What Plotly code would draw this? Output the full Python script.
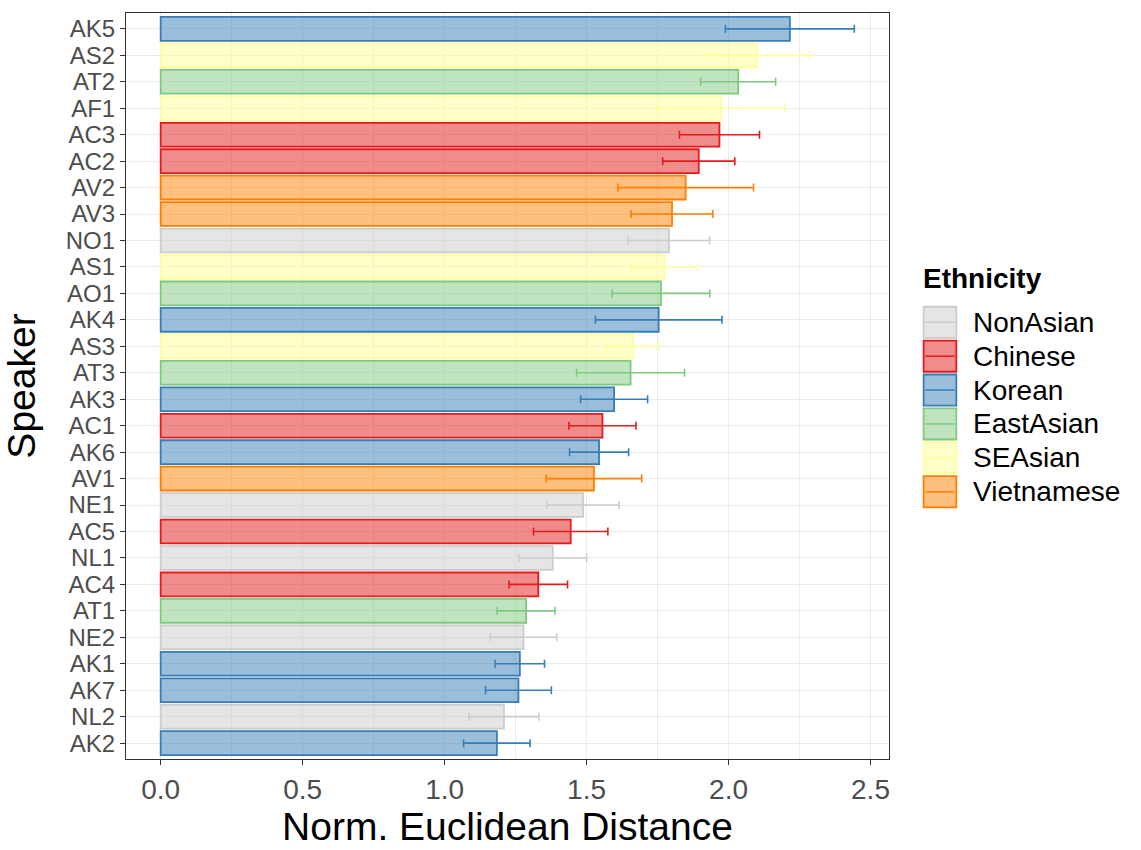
import plotly.graph_objects as go

# Speakers listed top to bottom, with mean distance, error half-width and ethnicity
speakers = ["AK5", "AS2", "AT2", "AF1", "AC3", "AC2", "AV2", "AV3", "NO1", "AS1",
            "AO1", "AK4", "AS3", "AT3", "AK3", "AC1", "AK6", "AV1", "NE1", "AC5",
            "NL1", "AC4", "AT1", "NE2", "AK1", "AK7", "NL2", "AK2"]
distance = [2.216, 2.100, 2.034, 1.973, 1.968, 1.895, 1.849, 1.801, 1.790, 1.774,
            1.762, 1.754, 1.664, 1.655, 1.597, 1.556, 1.544, 1.526, 1.488, 1.444,
            1.381, 1.330, 1.287, 1.278, 1.265, 1.260, 1.209, 1.184]
error = [0.227, 0.186, 0.132, 0.225, 0.141, 0.127, 0.239, 0.144, 0.143, 0.117,
         0.172, 0.223, 0.092, 0.190, 0.118, 0.118, 0.104, 0.168, 0.127, 0.131,
         0.119, 0.103, 0.102, 0.117, 0.087, 0.116, 0.123, 0.117]
ethnicity = ["Korean", "SEAsian", "EastAsian", "SEAsian", "Chinese", "Chinese",
             "Vietnamese", "Vietnamese", "NonAsian", "SEAsian", "EastAsian", "Korean",
             "SEAsian", "EastAsian", "Korean", "Chinese", "Korean", "Vietnamese",
             "NonAsian", "Chinese", "NonAsian", "Chinese", "EastAsian", "NonAsian",
             "Korean", "Korean", "NonAsian", "Korean"]

groups = ["NonAsian", "Chinese", "Korean", "EastAsian", "SEAsian", "Vietnamese"]
line_colors = {"NonAsian": "#CCCCCC", "Chinese": "#E41A1C", "Korean": "#377EB8",
               "EastAsian": "#7FC97F", "SEAsian": "#FFFF99", "Vietnamese": "#FF7F00"}
x_ticks = [0, 0.5, 1.0, 1.5, 2.0, 2.5]


def rgba(hex_color, alpha):
    h = hex_color.lstrip("#")
    r, g, b = int(h[0:2], 16), int(h[2:4], 16), int(h[4:6], 16)
    return f"rgba({r},{g},{b},{alpha})"


FONT = "Liberation Sans, Arial, sans-serif"
W, H = 1141, 850
L, R, T, B = 126, 888.7, 12.3, 772.7   # plot area in pixels

fig = go.Figure()
for g in groups:
    idx = [i for i, e in enumerate(ethnicity) if e == g]
    fig.add_trace(go.Bar(
        y=[speakers[i] for i in idx],
        x=[distance[i] for i in idx],
        orientation="h",
        width=0.9,
        name=g,
        showlegend=False,
        marker=dict(color=rgba(line_colors[g], 0.5),
                    line=dict(color=line_colors[g], width=1.8)),
        error_x=dict(type="data", array=[error[i] for i in idx], visible=True,
                     color=line_colors[g], thickness=1.6, width=4),
    ))

hi = max(d + e for d, e in zip(distance, error))
x_range = [-0.05 * hi, 1.05 * hi]

fig.update_layout(
    width=W, height=H,
    margin=dict(l=L, r=W - R, t=T, b=H - B),
    paper_bgcolor="white", plot_bgcolor="white",
    barmode="overlay",
    font=dict(family=FONT, color="#4D4D4D"),
    xaxis=dict(
        range=x_range, tickmode="array", tickvals=x_ticks,
        ticktext=[f"{v:.1f}" for v in x_ticks],
        showgrid=True, gridcolor="#EBEBEB", gridwidth=1.4,
        minor=dict(tickvals=[0.25, 0.75, 1.25, 1.75, 2.25], showgrid=True,
                   gridcolor="#EBEBEB", gridwidth=1.0, ticks=""),
        zeroline=False,
        showline=True, mirror=True, linecolor="#333333", linewidth=1.1,
        ticks="outside", ticklen=5, tickwidth=1.1, tickcolor="#333333",
        tickfont=dict(size=28, color="#4D4D4D", family=FONT),
        title=dict(text="Norm. Euclidean Distance", standoff=6,
                   font=dict(size=39, color="black", family=FONT)),
    ),
    yaxis=dict(
        type="category", categoryorder="array", categoryarray=speakers[::-1],
        tickmode="array", tickvals=speakers, ticktext=speakers,
        range=[-0.6, len(speakers) - 0.4],
        showgrid=True, gridcolor="#EBEBEB", gridwidth=1.4,
        zeroline=False,
        showline=True, mirror=True, linecolor="#333333", linewidth=1.1,
        ticks="outside", ticklen=5, tickwidth=1.1, tickcolor="#333333",
        tickfont=dict(size=24, color="#4D4D4D", family=FONT),
        title=dict(text="Speaker", standoff=18,
                   font=dict(size=39, color="black", family=FONT)),
    ),
)


def px_x(px):
    return (px - L) / (R - L)


def px_y(py):
    return (B - py) / (B - T)


# Legend drawn beside the panel: filled keys with the error-bar stroke across
fig.add_annotation(x=px_x(921), y=px_y(283), xref="paper", yref="paper",
                   text="<b>Ethnicity</b>", showarrow=False, xanchor="left",
                   yanchor="middle", font=dict(size=28, color="black", family=FONT))
key_top, key_h, key_step = 311.7, 31.7, 34.55
for i, g in enumerate(groups):
    y0 = key_top + i * key_step
    y1 = y0 + key_h
    fig.add_shape(type="rect", xref="paper", yref="paper",
                  x0=px_x(923.3), x1=px_x(956), y0=px_y(y1), y1=px_y(y0),
                  fillcolor=rgba(line_colors[g], 0.5),
                  line=dict(color=line_colors[g], width=1.8))
    fig.add_shape(type="line", xref="paper", yref="paper",
                  x0=px_x(925), x1=px_x(954.3), y0=px_y((y0 + y1) / 2),
                  y1=px_y((y0 + y1) / 2),
                  line=dict(color=line_colors[g], width=1.5))
    fig.add_annotation(x=px_x(971), y=px_y((y0 + y1) / 2), xref="paper", yref="paper",
                       text=g, showarrow=False, xanchor="left", yanchor="middle",
                       font=dict(size=28, color="black", family=FONT))

fig.write_html("out.html")
